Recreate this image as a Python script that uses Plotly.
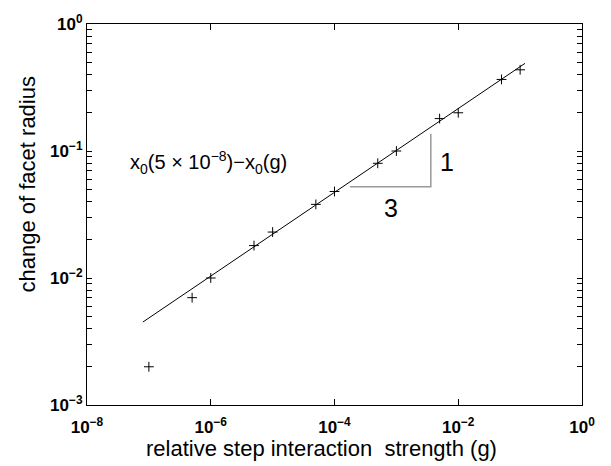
import plotly.graph_objects as go

# data
x_vals = [1e-7, 5e-7, 1e-6, 5e-6, 1e-5, 5e-5, 1e-4, 5e-4, 1e-3, 5e-3, 1e-2, 5e-2, 1e-1]
y_vals = [0.002, 0.007, 0.010, 0.018, 0.023, 0.038, 0.048, 0.080, 0.100, 0.18, 0.20, 0.366, 0.436]

fit_x = [8e-8, 0.12]
fit_y = [0.0045, 0.49]

tri_x = [1.77e-4, 3.6e-3, 3.6e-3]
tri_y = [0.0523, 0.0523, 0.137]

x_tickvals = [1e-8, 1e-6, 1e-4, 1e-2, 1e0]
x_ticktext = ["<b>10<sup>−8</sup></b>", "<b>10<sup>−6</sup></b>", "<b>10<sup>−4</sup></b>",
              "<b>10<sup>−2</sup></b>", "<b>10<sup>0</sup></b>"]
y_decades = [1e-3, 1e-2, 1e-1, 1e0]
y_decade_text = ["<b>10<sup>−3</sup></b>", "<b>10<sup>−2</sup></b>", "<b>10<sup>−1</sup></b>",
                 "<b>10<sup>0</sup></b>"]
y_minor_vals = [m * d for d in [1e-3, 1e-2, 1e-1] for m in range(2, 10)]

y_tickvals = y_decades + y_minor_vals
y_ticktext = y_decade_text + [""] * len(y_minor_vals)

FONT = "Liberation Sans, Arial, Helvetica, sans-serif"

fig = go.Figure()
fig.add_trace(go.Scatter(x=fit_x, y=fit_y, mode="lines",
                         line=dict(color="black", width=1), showlegend=False))
fig.add_trace(go.Scatter(x=tri_x, y=tri_y, mode="lines",
                         line=dict(color="#999999", width=1.5), showlegend=False))
fig.add_trace(go.Scatter(x=x_vals, y=y_vals, mode="markers",
                         marker=dict(symbol="cross-thin", size=7,
                                     line=dict(color="black", width=1)),
                         showlegend=False))

axis_common = dict(
    type="log", showgrid=False, zeroline=False, showline=True, linecolor="black",
    linewidth=1, mirror="ticks", ticks="inside", tickcolor="black", tickwidth=1.3,
    tickfont=dict(family=FONT, size=17, color="black"),
)
fig.update_xaxes(range=[-8, 0], tickvals=x_tickvals, ticktext=x_ticktext, ticklen=6,
                 ticklabelstandoff=7, **axis_common)
fig.update_yaxes(range=[-3, 0], tickvals=y_tickvals, ticktext=y_ticktext, ticklen=5,
                 **axis_common)

annots = [
    dict(x=-7.33, y=-1.092, xref="x", yref="y", xanchor="left", yanchor="middle",
         text="x<sub>0</sub>(5 × 10<sup>−8</sup>)−x<sub>0</sub>(g)", showarrow=False,
         font=dict(family=FONT, size=20, color="black")),
    dict(x=-2.175, y=-1.09, xref="x", yref="y", text="1", showarrow=False,
         font=dict(family=FONT, size=25, color="black")),
    dict(x=-3.092, y=-1.446, xref="x", yref="y", text="3", showarrow=False,
         font=dict(family=FONT, size=25, color="black")),
    dict(x=0.473, y=-0.113, xref="paper", yref="paper", text="relative step interaction  strength (g)",
         showarrow=False, xanchor="center", yanchor="middle",
         font=dict(family=FONT, size=22, color="black")),
    dict(x=-0.121, y=0.579, xref="paper", yref="paper", text="change of facet radius",
         showarrow=False, xanchor="center", yanchor="middle", textangle=-90,
         font=dict(family=FONT, size=22, color="black")),
]

fig.update_layout(
    width=611, height=466,
    margin=dict(l=87, r=29, t=15, b=61),
    paper_bgcolor="white", plot_bgcolor="white",
    annotations=annots,
)

fig.write_html("out.html")
